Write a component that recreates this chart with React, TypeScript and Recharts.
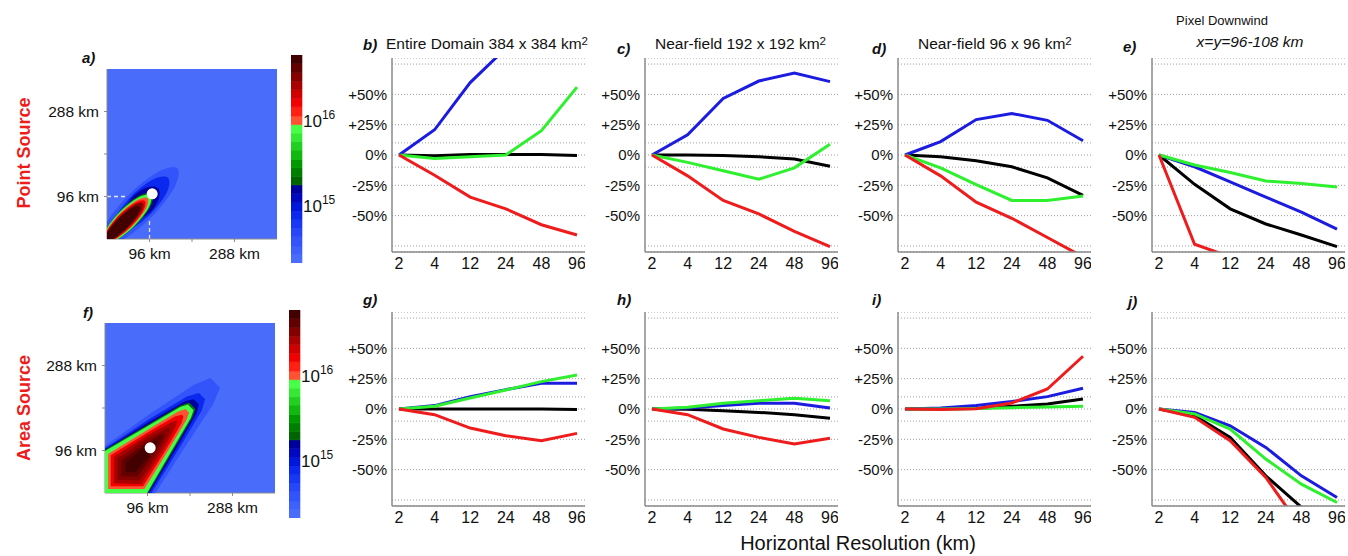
import React from 'react';
import {
  LineChart,
  Line,
  XAxis,
  YAxis,
  CartesianGrid,
  ScatterChart,
  Scatter,
  ReferenceLine,
} from 'recharts';

const FONT = '"Liberation Sans", Arial, Helvetica, sans-serif';

// ---------- relative change vs. 2 km run (%), per horizontal resolution ----------
const resolutions = ['2', '4', '12', '24', '48', '96'];

// b) entire domain, point source
const bBlack = [0, -0.6, 0.4, 0.5, 0.4, -0.4];
const bBlue = [0, 20.8, 59.7, 88, 110, 125];
const bGreen = [0, -2.8, -1.4, 0, 20, 56];
const bRed = [0, -16.7, -34.7, -44.4, -57.5, -66];
// c) near-field 192 km, point source
const cBlack = [0, 0, -0.5, -1.4, -3.3, -9.2];
const cBlue = [0, 16.7, 46.7, 61, 67.5, 60.5];
const cGreen = [0, -6.1, -13, -20, -10.6, 8.9];
const cRed = [0, -17.2, -37.5, -48.6, -63, -75.6];
// d) near-field 96 km, point source
const dBlack = [0, -1.4, -4.7, -9.7, -18.9, -33.3];
const dBlue = [0, 11.1, 29.2, 34.2, 28.6, 11.7];
const dGreen = [0, -10.6, -24.4, -37.5, -37.5, -33.9];
const dRed = [0, -17.2, -38.9, -52.2, -68, -84];
// e) pixel downwind, point source
const eBlack = [0, -24.2, -44.4, -56.9, -66, -75.6];
const eBlue = [0, -9.7, -22.2, -34.7, -47.2, -61.1];
const eGreen = [0, -8.3, -14.4, -21.4, -23.6, -26.4];
const eRed = [0, -73.6, -84, -90, -95, -98];
// g) entire domain, area source
const gBlack = [0, 0, 0, 0, 0, -0.5];
const gBlue = [0, 2.8, 10.2, 16, 21.2, 21.2];
const gGreen = [0, 2.2, 9.1, 15.7, 22.6, 28.1];
const gRed = [0, -4.7, -15.7, -22, -26.2, -20.1];
// h) near-field 192 km, area source
const hBlack = [0, -0.3, -1.4, -2.8, -4.7, -7.7];
const hBlue = [0, 0.8, 2.8, 4.7, 4.7, 0.8];
const hGreen = [0, 1.4, 4.7, 6.9, 8.8, 6.9];
const hRed = [0, -4.7, -16.5, -23.4, -28.9, -24.2];
// i) near-field 96 km, area source
const iBlack = [0, 0.3, 0.5, 2.2, 4.1, 8.3];
const iBlue = [0, 0.8, 2.8, 6.1, 10.2, 17.1];
const iGreen = [0, 0, 0.5, 1.1, 1.7, 2.2];
const iRed = [0, -0.5, 0.3, 5, 16.5, 43.5];
// j) pixel downwind, area source
const jBlack = [0, -5.5, -23.4, -55.1, -81, -95];
const jBlue = [0, -2.8, -13.8, -31.7, -55.1, -73];
const jGreen = [0, -4.1, -16.5, -41.3, -62, -77.1];
const jRed = [0, -6.9, -26.2, -56.5, -98, -110];

const pctGridTicks = [-75, -50, -25, -10, 0, 10, 25, 50, 75];
const pctLabeled = [-50, -25, 0, 25, 50];

// ---------- column density colour scale (log10) ----------
const bandPalette = [
  '#4a6cfb', '#3e60fb', '#3354fa', '#2646f8', '#1838f4', '#0a28ee', '#0018dc', '#0008c0', '#00009c',
  '#006400', '#007e00', '#009a00', '#10b810', '#22d022', '#34e834', '#48ff48',
  '#ff5232', '#ff2014', '#f00000', '#d00000', '#aa0000', '#860000', '#620000', '#420000',
];
const cbarLevels = [
  14.3, 14.4, 14.5, 14.61, 14.71, 14.81, 14.91, 15.01, 15.12, 15.22, 15.32, 15.42, 15.52,
  15.63, 15.73, 15.83, 15.93, 16.03, 16.14, 16.24, 16.34, 16.44, 16.54, 16.65, 16.75,
];
const cbarTicks = [15, 16];

// ---------- plume contours (km), outermost first ----------
const pointBand1 = [[159, 159], [116, 152], [49, 100], [-4, 32], [-11, -11], [32, -4], [100, 49], [152, 116]];
const pointBand2 = [[138, 138], [105, 135], [57, 99], [20, 50], [18, 18], [50, 20], [99, 57], [135, 105]];
const pointBand3 = [[115, 115], [91, 117], [61, 98], [41, 67], [44, 44], [67, 41], [98, 61], [117, 91]];
const pointBand4 = [[102, 102], [74, 98], [31, 65], [-2, 22], [-6, -6], [22, -2], [65, 31], [98, 74]];
const pointBand5 = [[98, 98], [71, 94], [30, 62], [-2, 21], [-6, -6], [21, -2], [62, 30], [94, 71]];
const pointBand6 = [[92, 92], [68, 88], [30, 58], [0, 20], [-4, -4], [20, 0], [58, 30], [88, 68]];
const pointBand7 = [[86, 86], [64, 82], [28, 54], [0, 18], [-4, -4], [18, 0], [54, 28], [82, 64]];
const pointBand8 = [[81, 81], [61, 77], [28, 50], [1, 17], [-4, -4], [17, 1], [50, 28], [77, 61]];
const pointBand9 = [[74, 74], [56, 70], [25, 45], [1, 15], [-4, -4], [15, 1], [45, 25], [70, 56]];
const pointBandLevels = [2, 5, 8, 10, 15, 16, 18, 21, 23];

const areaBand1 = [[-10, -10], [-10, 106], [0, 106], [100, 178], [200, 244], [238, 260], [260, 238], [244, 200], [178, 100], [114, 0], [114, -10]];
const areaBand2 = [[-10, -10], [-10, 101], [0, 101], [100, 167], [185, 218], [212, 226], [226, 212], [218, 185], [167, 100], [105, 0], [105, -10]];
const areaBand3 = [[-10, -10], [-10, 99], [0, 99], [100, 161], [180, 207], [200, 212], [212, 200], [207, 180], [161, 100], [100, 0], [100, -10]];
const areaBand4 = [[-10, -10], [-10, 97], [0, 97], [100, 156], [172, 198], [190, 204], [204, 190], [198, 172], [156, 100], [97, 0], [97, -10]];
const areaBand5 = [[-10, -10], [-10, 95], [0, 95], [100, 153], [170, 194], [187, 200], [200, 187], [194, 170], [153, 100], [95, 0], [95, -10]];
const areaBand6 = [[7, 9], [7, 88], [100, 145], [165, 184], [182, 190], [190, 182], [184, 165], [145, 100], [89, 9]];
const areaBand7 = [[13, 15], [13, 85], [100, 139], [158, 173], [173, 177], [177, 173], [173, 158], [139, 100], [86, 15]];
const areaBand8 = [[20, 22], [20, 82], [97, 131], [150, 160], [162, 163], [163, 162], [160, 150], [131, 97], [82, 20]];
const areaBand9 = [[28, 30], [28, 78], [92, 121], [140, 146], [148, 148], [146, 140], [121, 92], [78, 28]];
const areaBand10 = [[36, 38], [37, 74], [88, 110], [128, 134], [134, 128], [110, 88], [74, 37]];
const areaBand11 = [[46, 48], [48, 70], [84, 100], [116, 120], [120, 116], [100, 84], [70, 48]];
const areaBandLevels = [2, 5, 8, 10, 15, 16, 18, 20, 21, 22, 23];

const pointBands = [pointBand1, pointBand2, pointBand3, pointBand4, pointBand5, pointBand6, pointBand7, pointBand8, pointBand9];
const areaBands = [areaBand1, areaBand2, areaBand3, areaBand4, areaBand5, areaBand6, areaBand7, areaBand8, areaBand9, areaBand10, areaBand11];

const downwindPixel = [{ x: 102, y: 102 }];
const mapTicks = [96, 192, 288];
const mapLabeled = [96, 288];

const COLORS = { black: '#000000', blue: '#1c1ce0', green: '#2ef02e', red: '#ee1c1c' };
const AXIS_STROKE = '#8a8a8a';

// ---------- helpers ----------
type Pt = { x: number; y: number };

function closedPath(points: Pt[], smooth: boolean): string {
  const n = points.length;
  if (!n) return '';
  if (!smooth) return 'M' + points.map((p) => `${p.x},${p.y}`).join('L') + 'Z';
  let d = `M${points[0].x},${points[0].y}`;
  for (let i = 0; i < n; i++) {
    const p0 = points[(i - 1 + n) % n];
    const p1 = points[i];
    const p2 = points[(i + 1) % n];
    const p3 = points[(i + 2) % n];
    const c1x = p1.x + (p2.x - p0.x) / 6;
    const c1y = p1.y + (p2.y - p0.y) / 6;
    const c2x = p2.x - (p3.x - p1.x) / 6;
    const c2y = p2.y - (p3.y - p1.y) / 6;
    d += `C${c1x},${c1y} ${c2x},${c2y} ${p2.x},${p2.y}`;
  }
  return d + 'Z';
}

const EmptyShape = () => <g />;

function PctTick(props: any) {
  const { x, y, payload } = props;
  const v = payload.value;
  if (!pctLabeled.includes(v)) return <g />;
  const txt = v > 0 ? `+${v}%` : `${v}%`;
  return (
    <text x={x} y={y} dy="0.36em" textAnchor="end" fontSize={15} fontFamily={FONT} fill="#111">
      {txt}
    </text>
  );
}

function ResTick(props: any) {
  const { x, y, payload } = props;
  return (
    <text x={x} y={y} dy="0.71em" textAnchor="middle" fontSize={16} fontFamily={FONT} fill="#111">
      {payload.value}
    </text>
  );
}

function KmTickX(props: any) {
  const { x, y, payload } = props;
  if (!mapLabeled.includes(payload.value)) return <g />;
  return (
    <text x={x} y={y} dy="0.71em" textAnchor="middle" fontSize={15.5} fontFamily={FONT} fill="#111">
      {`${payload.value} km`}
    </text>
  );
}

function KmTickY(props: any) {
  const { x, y, payload } = props;
  if (!mapLabeled.includes(payload.value)) return <g />;
  return (
    <text x={x} y={y} dy="0.36em" textAnchor="end" fontSize={15.5} fontFamily={FONT} fill="#111">
      {`${payload.value} km`}
    </text>
  );
}

function PowerTick(props: any) {
  const { x, y, payload } = props;
  return (
    <text x={x} y={y + 8} fontSize={17} fontFamily={FONT} fill="#111">
      10
      <tspan dy={-7.7} fontSize={12}>
        {payload.value}
      </tspan>
    </text>
  );
}

// ---------- resolution panels ----------
type PanelProps = { left: number; top: number; black: number[]; blue: number[]; green: number[]; red: number[] };

function ResolutionPanel({ left, top, black, blue, green, red }: PanelProps) {
  const data = resolutions.map((r, i) => ({ res: r, black: black[i], blue: blue[i], green: green[i], red: red[i] }));
  return (
    <div style={{ position: 'absolute', left: left - 60, top }}>
      <LineChart width={253} height={224} data={data} margin={{ top: 0, right: 0, bottom: 0, left: 0 }}>
        <CartesianGrid horizontal vertical={false} stroke="#9c9c9c" strokeDasharray="1 2" />
        <XAxis
          dataKey="res"
          type="category"
          height={30}
          padding={{ left: 7, right: 8 }}
          tickSize={0}
          tickMargin={6}
          interval={0}
          axisLine={{ stroke: AXIS_STROKE, strokeWidth: 1.5 }}
          tickLine={false}
          tick={(p: any) => <ResTick {...p} />}
        />
        <YAxis
          type="number"
          domain={[-80, 80]}
          ticks={pctGridTicks}
          allowDataOverflow
          width={60}
          tickSize={0}
          tickMargin={5}
          interval={0}
          axisLine={{ stroke: AXIS_STROKE, strokeWidth: 1.5 }}
          tickLine={false}
          tick={(p: any) => <PctTick {...p} />}
        />
        <Line dataKey="black" stroke={COLORS.black} strokeWidth={3} dot={false} isAnimationActive={false} />
        <Line dataKey="blue" stroke={COLORS.blue} strokeWidth={3} dot={false} isAnimationActive={false} />
        <Line dataKey="green" stroke={COLORS.green} strokeWidth={3} dot={false} isAnimationActive={false} />
        <Line dataKey="red" stroke={COLORS.red} strokeWidth={3} dot={false} isAnimationActive={false} />
      </LineChart>
    </div>
  );
}

// ---------- plume maps ----------
type MapProps = { left: number; top: number; bands: number[][][]; levels: number[]; smooth: boolean };

function PlumeMap({ left, top, bands, levels, smooth }: MapProps) {
  return (
    <div style={{ position: 'absolute', left: left - 60, top: top - 5 }}>
      <ScatterChart width={235} height={205} margin={{ top: 5, right: 5, bottom: 0, left: 0 }}>
        <CartesianGrid horizontal={false} vertical={false} fill={bandPalette[0]} fillOpacity={1} />
        <XAxis
          dataKey="x"
          type="number"
          domain={[0, 384]}
          ticks={mapTicks}
          allowDataOverflow
          height={30}
          tickSize={3}
          tickMargin={6}
          interval={0}
          axisLine={{ stroke: AXIS_STROKE }}
          tickLine={{ stroke: AXIS_STROKE }}
          tick={(p: any) => <KmTickX {...p} />}
        />
        <XAxis
          xAxisId="top"
          orientation="top"
          dataKey="x"
          type="number"
          domain={[0, 384]}
          ticks={mapTicks}
          allowDataOverflow
          height={0}
          tickSize={3}
          interval={0}
          axisLine={{ stroke: AXIS_STROKE }}
          tickLine={{ stroke: AXIS_STROKE }}
          tick={false}
        />
        <YAxis
          dataKey="y"
          type="number"
          domain={[0, 384]}
          ticks={mapTicks}
          allowDataOverflow
          width={60}
          tickSize={3}
          tickMargin={5}
          interval={0}
          axisLine={{ stroke: AXIS_STROKE }}
          tickLine={{ stroke: AXIS_STROKE }}
          tick={(p: any) => <KmTickY {...p} />}
        />
        <YAxis
          yAxisId="right"
          orientation="right"
          dataKey="y"
          type="number"
          domain={[0, 384]}
          ticks={mapTicks}
          allowDataOverflow
          width={0}
          tickSize={3}
          interval={0}
          axisLine={{ stroke: AXIS_STROKE }}
          tickLine={{ stroke: AXIS_STROKE }}
          tick={false}
        />
        {bands.map((band, i) => {
          const color = bandPalette[levels[i]];
          return (
            <Scatter
              key={`band-${i}`}
              data={band.map(([x, y]) => ({ x, y }))}
              fill={color}
              shape={EmptyShape}
              line={(lp: any) => <path d={closedPath(lp.points, smooth)} fill={color} stroke="none" />}
              isAnimationActive={false}
            />
          );
        })}
        <ReferenceLine
          segment={[{ x: 0, y: 96 }, { x: 96, y: 96 }]}
          stroke="#e6e6e6"
          strokeWidth={1.3}
          strokeDasharray="4 3"
        />
        <ReferenceLine
          segment={[{ x: 96, y: 0 }, { x: 96, y: 96 }]}
          stroke="#e6e6e6"
          strokeWidth={1.3}
          strokeDasharray="4 3"
        />
        <Scatter
          data={downwindPixel}
          fill="#ffffff"
          shape={(p: any) => <circle cx={p.cx} cy={p.cy} r={5.5} fill="#ffffff" />}
          isAnimationActive={false}
        />
      </ScatterChart>
    </div>
  );
}

// colour bar: one filled band per palette level, between consecutive level bounds
function ColorBar({ left, top }: { left: number; top: number }) {
  return (
    <div style={{ position: 'absolute', left, top }}>
      <ScatterChart width={60} height={208} margin={{ top: 0, right: 0, bottom: 0, left: 0 }}>
        <XAxis dataKey="x" type="number" domain={[0, 1]} hide />
        <YAxis
          dataKey="y"
          orientation="right"
          type="number"
          domain={[cbarLevels[0], cbarLevels[cbarLevels.length - 1]]}
          ticks={cbarTicks}
          width={49}
          tickSize={0}
          tickMargin={1}
          axisLine={false}
          tickLine={false}
          interval={0}
          tick={(p: any) => <PowerTick {...p} />}
        />
        {bandPalette.map((c, i) => (
          <Scatter
            key={`cb-${i}`}
            data={[
              { x: 0, y: cbarLevels[i] },
              { x: 1, y: cbarLevels[i] },
              { x: 1, y: cbarLevels[i + 1] },
              { x: 0, y: cbarLevels[i + 1] },
            ]}
            fill={c}
            shape={EmptyShape}
            line={(lp: any) => <path d={closedPath(lp.points, false)} fill={c} stroke={c} strokeWidth={0.6} />}
            isAnimationActive={false}
          />
        ))}
      </ScatterChart>
    </div>
  );
}

const topPanels = [
  { left: 392, black: bBlack, blue: bBlue, green: bGreen, red: bRed },
  { left: 645, black: cBlack, blue: cBlue, green: cGreen, red: cRed },
  { left: 898, black: dBlack, blue: dBlue, green: dGreen, red: dRed },
  { left: 1152, black: eBlack, blue: eBlue, green: eGreen, red: eRed },
];
const bottomPanels = [
  { left: 392, black: gBlack, blue: gBlue, green: gGreen, red: gRed },
  { left: 645, black: hBlack, blue: hBlue, green: hGreen, red: hRed },
  { left: 898, black: iBlack, blue: iBlue, green: iGreen, red: iRed },
  { left: 1152, black: jBlack, blue: jBlue, green: jGreen, red: jRed },
];

const letterStyle = { fontSize: 15, fontWeight: 700, fontStyle: 'italic' as const, fontFamily: FONT, fill: '#111' };
const titleStyle = { fontSize: 15.5, fontFamily: FONT, fill: '#111' };

export default function App() {
  return (
    <div style={{ position: 'absolute', left: 0, top: 0, width: 1348, height: 556, background: '#ffffff', overflow: 'hidden' }}>
      <PlumeMap left={107} top={69} bands={pointBands} levels={pointBandLevels} smooth />
      <PlumeMap left={105} top={323} bands={areaBands} levels={areaBandLevels} smooth={false} />
      <ColorBar left={291} top={55} />
      <ColorBar left={289} top={310} />
      {topPanels.map((p, i) => (
        <ResolutionPanel key={`t${i}`} top={58} {...p} />
      ))}
      {bottomPanels.map((p, i) => (
        <ResolutionPanel key={`b${i}`} top={312} {...p} />
      ))}
      <svg width={1348} height={556} style={{ position: 'absolute', left: 0, top: 0, pointerEvents: 'none' }}>
        <text transform="translate(29.5,153) rotate(-90)" textAnchor="middle" fontSize={18} fontWeight={700} fontFamily={FONT} fill="#ee1c1c">
          Point Source
        </text>
        <text transform="translate(29.5,408) rotate(-90)" textAnchor="middle" fontSize={18} fontWeight={700} fontFamily={FONT} fill="#ee1c1c">
          Area Source
        </text>
        <text x={82} y={63} {...letterStyle}>a)</text>
        <text x={83} y={318} {...letterStyle}>f)</text>
        <text x={363} y={50} {...letterStyle}>b)</text>
        <text x={617} y={54} {...letterStyle}>c)</text>
        <text x={872} y={54} {...letterStyle}>d)</text>
        <text x={1123} y={52} {...letterStyle}>e)</text>
        <text x={363} y={305} {...letterStyle}>g)</text>
        <text x={617} y={305} {...letterStyle}>h)</text>
        <text x={872} y={305} {...letterStyle}>i)</text>
        <text x={1128} y={307} {...letterStyle}>j)</text>
        <text x={386} y={49} {...titleStyle}>
          Entire Domain 384 x 384 km<tspan dy={-4} fontSize={11.5}>2</tspan>
        </text>
        <text x={655} y={49} {...titleStyle}>
          Near-field 192 x 192 km<tspan dy={-4} fontSize={11.5}>2</tspan>
        </text>
        <text x={918} y={49} {...titleStyle}>
          Near-field 96 x 96 km<tspan dy={-4} fontSize={11.5}>2</tspan>
        </text>
        <text x={1222} y={25} textAnchor="middle" fontSize={13} fontFamily={FONT} fill="#111">
          Pixel Downwind
        </text>
        <text x={1250} y={47} textAnchor="middle" fontSize={15.5} fontStyle="italic" fontFamily={FONT} fill="#111">
          x=y=96-108 km
        </text>
        <text x={858} y={550} textAnchor="middle" fontSize={20} fontFamily={FONT} fill="#111">
          Horizontal Resolution (km)
        </text>
      </svg>
    </div>
  );
}
